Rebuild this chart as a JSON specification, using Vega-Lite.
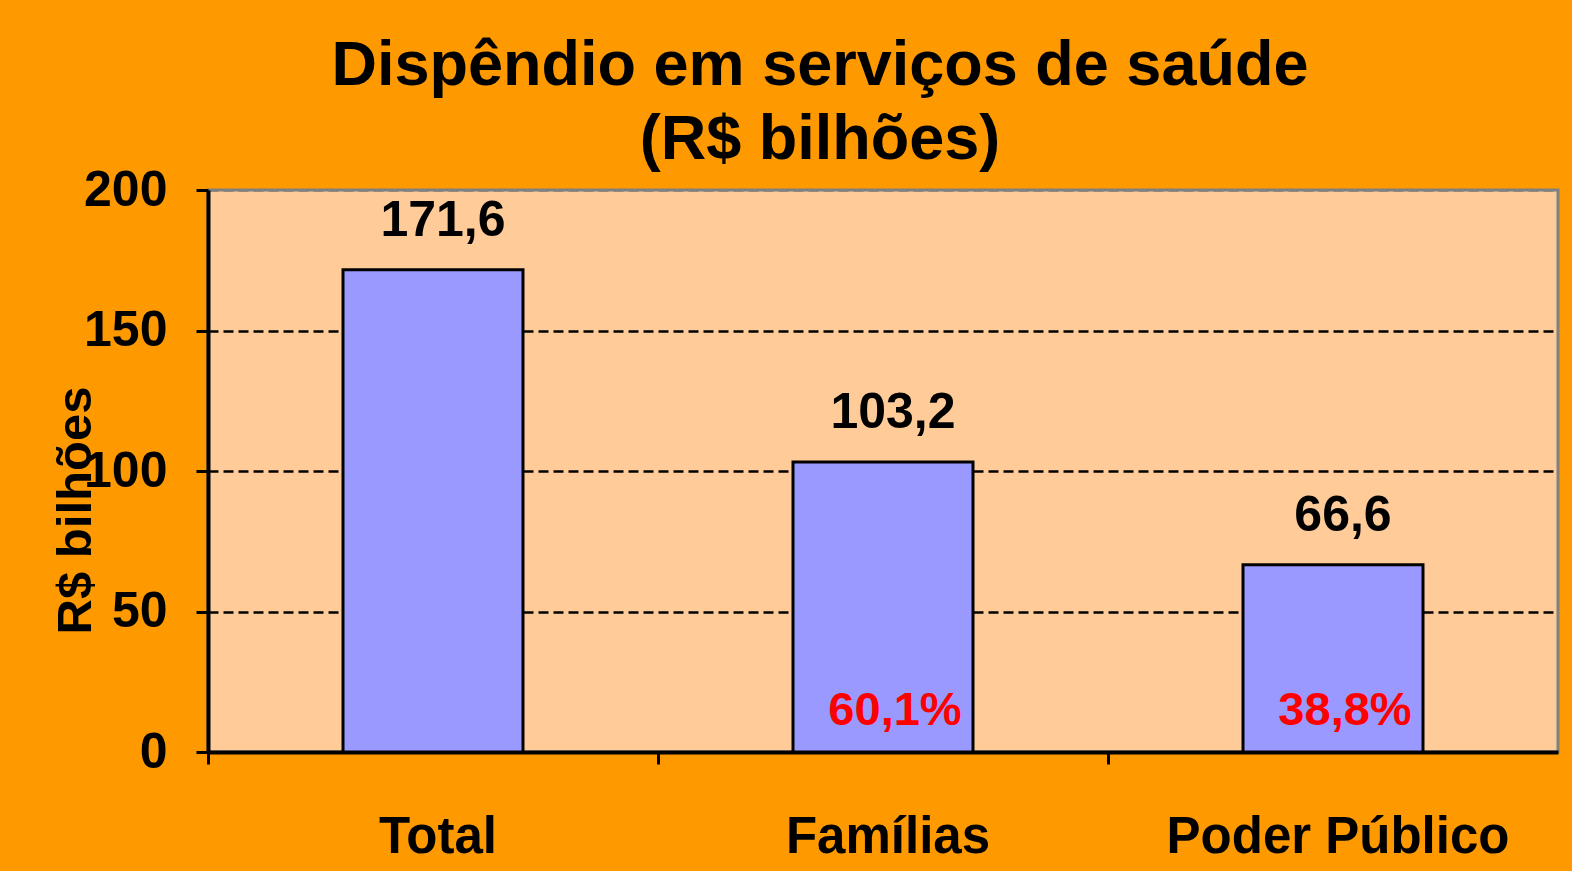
{
  "$schema": "https://vega.github.io/schema/vega-lite/v6.json",
  "autosize": {"type": "none"},
  "padding": {"left": 208, "top": 190, "right": 14, "bottom": 119},
  "width": 1350,
  "height": 562,
  "background": "#FF9900",
  "title": {
    "text": ["Dispêndio em serviços de saúde", "(R$ bilhões)"],
    "font": "Liberation Sans",
    "fontSize": 63,
    "fontWeight": "bold",
    "color": "black",
    "lineHeight": 74,
    "anchor": "middle",
    "dx": -63,
    "offset": -7
  },
  "data": {
    "values": [
      {"cat": "Total", "value": 171.6, "label": "171,6", "pct": ""},
      {"cat": "Famílias", "value": 103.2, "label": "103,2", "pct": "60,1%"},
      {"cat": "Poder Público", "value": 66.6, "label": "66,6", "pct": "38,8%"}
    ]
  },
  "encoding": {
    "x": {
      "field": "cat",
      "type": "nominal",
      "sort": null,
      "scale": {"paddingInner": 0.6, "paddingOuter": 0.3},
      "axis": {
        "title": null,
        "labelAngle": 0,
        "labelLimit": 600,
        "labelFont": "Liberation Sans",
        "labelFontSize": 51,
        "labelFontWeight": "bold",
        "labelColor": "black",
        "labelBaseline": "alphabetic",
        "labelPadding": 88,
        "labelOffset": 5,
        "bandPosition": -0.75,
        "tickSize": 12,
        "tickColor": "black",
        "tickWidth": 3,
        "domainColor": "black",
        "domainWidth": 4,
        "grid": false
      }
    },
    "y": {
      "field": "value",
      "type": "quantitative",
      "scale": {"domain": [0, 200], "nice": false},
      "axis": {
        "values": [0, 50, 100, 150, 200],
        "title": "R$ bilhões",
        "titleFont": "Liberation Sans",
        "titleFontSize": 49,
        "titleFontWeight": "bold",
        "titleColor": "black",
        "titleAngle": -90,
        "titleAlign": "center",
        "titleBaseline": "middle",
        "titleX": -133,
        "titleY": 320,
        "labelFont": "Liberation Sans",
        "labelFontSize": 50,
        "labelFontWeight": "bold",
        "labelColor": "black",
        "labelPadding": 29,
        "labelBaseline": "middle",
        "tickSize": 12,
        "tickColor": "black",
        "tickWidth": 3,
        "domainColor": "black",
        "domainWidth": 4,
        "grid": true,
        "gridColor": {"condition": {"test": "datum.value === 200", "value": "#808080"}, "value": "black"},
        "gridDash": [10, 5],
        "gridWidth": 2.5
      }
    }
  },
  "layer": [
    {
      "mark": {"type": "bar", "color": "#9999FF", "stroke": "black", "strokeWidth": 3}
    },
    {
      "mark": {"type": "text", "font": "Liberation Sans", "fontSize": 50, "fontWeight": "bold", "color": "black", "baseline": "alphabetic", "dy": -34, "dx": 10},
      "encoding": {"text": {"field": "label"}}
    },
    {
      "mark": {"type": "text", "font": "Liberation Sans", "fontSize": 47, "fontWeight": "bold", "color": "#FF0000", "baseline": "alphabetic", "dy": -27, "dx": 12},
      "encoding": {"text": {"field": "pct"}, "y": {"datum": 0}}
    }
  ],
  "config": {
    "view": {"fill": "#FFCC99", "stroke": "#808080", "strokeWidth": 3}
  }
}
